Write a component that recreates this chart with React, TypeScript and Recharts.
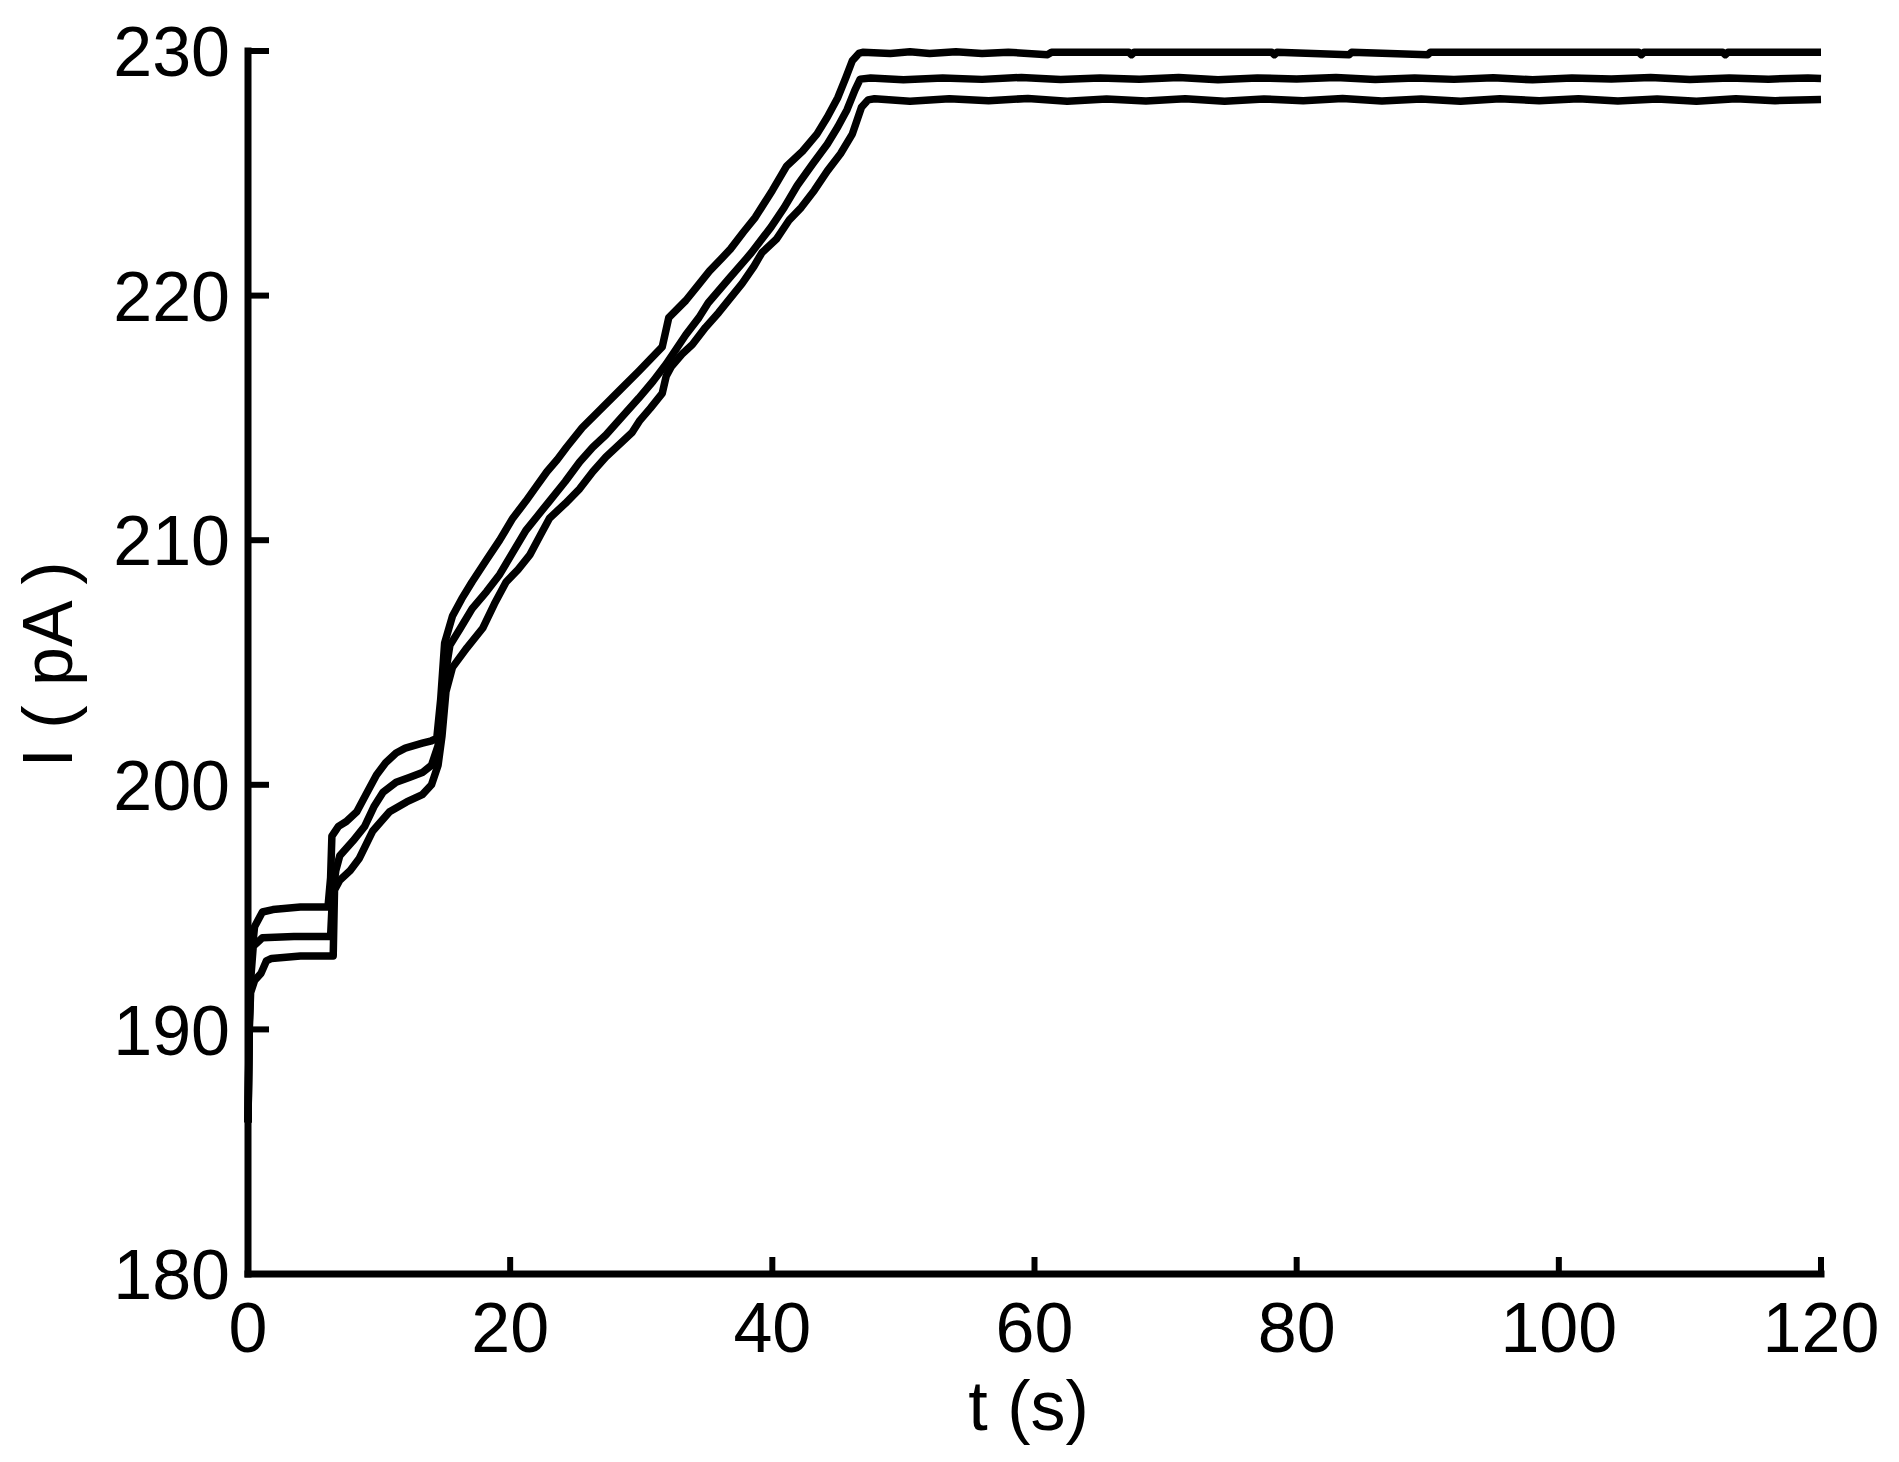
import React from 'react';
import { LineChart, Line, XAxis, YAxis } from 'recharts';

const X_TICKS = [0, 20, 40, 60, 80, 100, 120];
const Y_TICKS = [180, 190, 200, 210, 220, 230];

// [t (s), I (pA)]
const TOP: [number, number][] = [
  [0, 186.2], [0.1, 190.5], [0.2, 192.6], [0.5, 194.2], [1.1, 194.8], [1.9, 194.9], [4.0, 195.0],
  [6.1, 195.0], [6.3, 196.2], [6.4, 197.9], [6.9, 198.3], [7.5, 198.5], [8.3, 198.9], [9.0, 199.6],
  [9.8, 200.4], [10.5, 200.9], [11.3, 201.3], [12.0, 201.5], [13.3, 201.7], [14.0, 201.8], [14.4, 201.9],
  [14.7, 203.5], [15.0, 205.8], [15.6, 206.9], [16.3, 207.6], [17.1, 208.3], [18.2, 209.2], [19.2, 210.0],
  [20.2, 210.9], [21.2, 211.6], [22.0, 212.2], [22.8, 212.8], [23.6, 213.3], [24.3, 213.8], [25.5, 214.6],
  [26.8, 215.3], [28.3, 216.1], [29.8, 216.9], [30.7, 217.4], [31.6, 217.9], [32.1, 219.1], [33.4, 219.8],
  [34.3, 220.4], [35.2, 221.0], [36.1, 221.5], [36.8, 221.9], [37.8, 222.6], [38.7, 223.2], [40.0, 224.3],
  [41.1, 225.3], [42.3, 225.9], [43.4, 226.6], [44.2, 227.3], [45.0, 228.1], [45.6, 228.9], [46.1, 229.6],
  [46.6, 229.9], [46.9, 229.95], [49, 229.9], [50.5, 229.97], [52, 229.9], [54, 229.97], [56, 229.9],
  [58, 229.95], [61, 229.85], [61.3, 229.95], [67.2, 229.95], [67.4, 229.85], [67.6, 229.95],
  [78.1, 229.95], [78.3, 229.85], [78.5, 229.95], [84, 229.85], [84.2, 229.95], [90, 229.85],
  [90.2, 229.95], [106.1, 229.95], [106.3, 229.85], [106.5, 229.95], [112.5, 229.95], [112.7, 229.85],
  [112.9, 229.95], [120, 229.95],
];

const MIDDLE: [number, number][] = [
  [0, 186.2], [0.1, 190.3], [0.2, 192.0], [0.4, 193.4], [1.1, 193.75], [3.5, 193.8], [6.3, 193.8],
  [6.45, 195.5], [6.7, 196.5], [7.0, 197.1], [8.0, 197.7], [8.9, 198.3], [9.6, 199.1], [10.3, 199.7],
  [11.3, 200.1], [12.3, 200.3], [13.3, 200.5], [14.0, 200.8], [14.5, 201.6], [14.9, 204.0], [15.4, 205.7],
  [16.2, 206.4], [17.1, 207.2], [18.2, 207.9], [19.2, 208.6], [20.2, 209.5], [21.2, 210.4], [22.1, 211.0],
  [23.0, 211.6], [24.2, 212.4], [25.3, 213.2], [26.3, 213.8], [27.3, 214.3], [28.3, 214.9], [29.8, 215.8],
  [30.9, 216.5], [31.9, 217.2], [33.4, 218.4], [34.4, 219.1], [35.1, 219.7], [36.7, 220.7], [38.0, 221.5],
  [38.4, 221.75], [39.9, 222.8], [40.9, 223.6], [41.9, 224.5], [43.1, 225.4], [44.2, 226.2], [45.0, 226.9],
  [45.7, 227.6], [46.3, 228.4], [46.7, 228.85], [47.5, 228.9], [50, 228.82], [53, 228.9], [56, 228.84],
  [59, 228.92], [62, 228.83], [65, 228.9], [68, 228.85], [71, 228.92], [74, 228.82], [77, 228.9],
  [80, 228.86], [83, 228.92], [86, 228.83], [89, 228.9], [92, 228.84], [95, 228.91], [98, 228.82],
  [101, 228.9], [104, 228.86], [107, 228.92], [110, 228.83], [113, 228.9], [116, 228.85], [119, 228.9],
  [120, 228.88],
];

const BOTTOM: [number, number][] = [
  [0, 186.2], [0.1, 190.0], [0.2, 191.5], [0.5, 192.0], [1.0, 192.3], [1.4, 192.8], [1.8, 192.9],
  [4.0, 193.0], [6.5, 193.0], [6.6, 195.7], [7.0, 196.1], [7.8, 196.5], [8.5, 197.0], [9.5, 198.1],
  [10.8, 198.9], [12.1, 199.3], [13.3, 199.6], [14.0, 200.0], [14.5, 200.8], [14.8, 202.0], [15.1, 203.8],
  [15.6, 204.8], [16.7, 205.6], [17.9, 206.4], [18.8, 207.4], [19.7, 208.3], [20.6, 208.8], [21.5, 209.4],
  [22.3, 210.2], [23.0, 210.9], [24.2, 211.5], [25.3, 212.1], [26.3, 212.8], [27.3, 213.4], [28.3, 213.9],
  [29.3, 214.4], [29.9, 214.9], [30.7, 215.4], [31.6, 216.0], [31.9, 216.7], [32.3, 217.1], [33.1, 217.6],
  [33.9, 218.0], [34.9, 218.7], [35.9, 219.3], [36.5, 219.7], [37.7, 220.5], [38.6, 221.2], [39.2, 221.75],
  [40.3, 222.3], [41.3, 223.1], [42.2, 223.6], [43.2, 224.3], [44.2, 225.1], [45.2, 225.8], [46.1, 226.6],
  [46.8, 227.7], [47.3, 228.0], [47.8, 228.05], [50.5, 227.95], [53.5, 228.05], [56.5, 227.97],
  [59.5, 228.06], [62.5, 227.95], [65.5, 228.04], [68.5, 227.96], [71.5, 228.05], [74.5, 227.95],
  [77.5, 228.04], [80.5, 227.97], [83.5, 228.06], [86.5, 227.96], [89.5, 228.04], [92.5, 227.95],
  [95.5, 228.05], [98.5, 227.97], [101.5, 228.05], [104.5, 227.96], [107.5, 228.04], [110.5, 227.95],
  [113.5, 228.05], [116.5, 227.97], [120, 228.02],
];

const toRows = (pairs: [number, number][]) => pairs.map(([t, i]) => ({ t, i }));
const topData = toRows(TOP);
const middleData = toRows(MIDDLE);
const bottomData = toRows(BOTTOM);

const FONT = '"Liberation Sans", Arial, Helvetica, sans-serif';
const FONT_SIZE = 70;
const Y_TICK_MARGIN = 18;
const X_TICK_MARGIN = 28;
const LINE_W = 7.5;

const YTick = (props: any) => {
  const { x, y, payload } = props;
  const ax = x + Y_TICK_MARGIN;
  return (
    <g>
      <line x1={ax} x2={ax + 21} y1={y} y2={y} stroke="#000" strokeWidth={6} />
      <text x={x} y={y} dy="0.36em" textAnchor="end" fontFamily={FONT} fontSize={FONT_SIZE} fill="#000">
        {payload.value}
      </text>
    </g>
  );
};

const XTick = (props: any) => {
  const { x, y, payload } = props;
  const ay = y - X_TICK_MARGIN;
  return (
    <g>
      <line x1={x} x2={x} y1={ay} y2={ay - 17} stroke="#000" strokeWidth={6} />
      <text x={x} y={y} dy="0.71em" textAnchor="middle" fontFamily={FONT} fontSize={FONT_SIZE} fill="#000">
        {payload.value}
      </text>
    </g>
  );
};

const YTitle = (props: any) => {
  const vb = props.viewBox || { x: 0, y: 51, width: 248, height: 1223 };
  const cx = vb.x + 72;
  const cy = vb.y + vb.height / 2 + 2;
  return (
    <text x={cx} y={cy} transform={`rotate(-90 ${cx} ${cy})`} textAnchor="middle" fontFamily={FONT} fontSize={FONT_SIZE} fill="#000">
      I ( pA )
    </text>
  );
};

const XTitle = (props: any) => {
  const vb = props.viewBox || { x: 248, y: 1274, width: 1573, height: 188 };
  const cx = vb.x + vb.width / 2 - 6;
  const cy = vb.y + 156;
  return (
    <text x={cx} y={cy} textAnchor="middle" fontFamily={FONT} fontSize={FONT_SIZE} fill="#000">
      t (s)
    </text>
  );
};

export default function App() {
  return (
    <div style={{ position: 'absolute', left: 0, top: 0, width: 1899, height: 1462, background: '#fff' }}>
      <LineChart width={1899} height={1462} margin={{ top: 51, right: 78, bottom: 0, left: 0 }}>
        <XAxis
          type="number"
          dataKey="t"
          domain={[0, 120]}
          ticks={X_TICKS}
          interval={0}
          height={188}
          tickSize={0}
          tickMargin={X_TICK_MARGIN}
          tickLine={false}
          axisLine={{ stroke: '#000', strokeWidth: 7, strokeLinecap: 'square' }}
          tick={XTick}
          label={XTitle}
        />
        <YAxis
          type="number"
          dataKey="i"
          domain={[180, 230]}
          ticks={Y_TICKS}
          interval={0}
          width={248}
          tickSize={0}
          tickMargin={Y_TICK_MARGIN}
          tickLine={false}
          axisLine={{ stroke: '#000', strokeWidth: 7, strokeLinecap: 'square' }}
          tick={YTick}
          label={YTitle}
        />
        <Line data={topData} dataKey="i" name="top" type="linear" stroke="#000" strokeWidth={LINE_W} strokeLinejoin="round" dot={false} activeDot={false} isAnimationActive={false} />
        <Line data={middleData} dataKey="i" name="middle" type="linear" stroke="#000" strokeWidth={LINE_W} strokeLinejoin="round" dot={false} activeDot={false} isAnimationActive={false} />
        <Line data={bottomData} dataKey="i" name="bottom" type="linear" stroke="#000" strokeWidth={LINE_W} strokeLinejoin="round" dot={false} activeDot={false} isAnimationActive={false} />
      </LineChart>
    </div>
  );
}
